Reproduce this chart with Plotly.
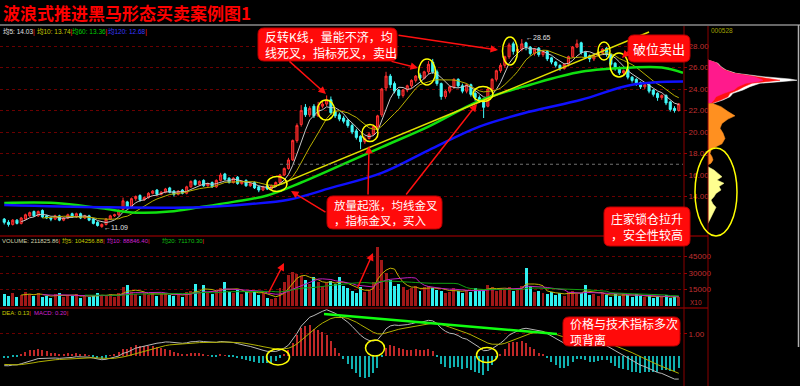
import plotly.graph_objects as go
import pandas as pd

W, H = 800, 386
def px(x): return x / W
def py(y): return 1 - y / H

# ---------------- data ----------------
opens = [11.9, 11.6, 11.4, 11.8, 11.5, 11.9, 12.2, 12.6, 12.2, 12.7,
         12.2, 12.0, 11.9, 12.2, 11.8, 12.0, 12.4, 12.1, 12.4, 12.0,
         12.2, 11.9, 11.6, 11.2, 11.4, 11.9, 12.2, 12.3, 12.8, 13.5,
         13.0, 13.8, 14.1, 13.7, 13.9, 14.3, 14.6, 14.2, 14.4, 14.8,
         14.5, 14.2, 14.6, 14.3, 14.9, 15.5, 15.1, 15.5, 15.0, 15.3,
         14.9, 15.5, 16.1, 15.7, 15.3, 15.8, 15.2, 15.5, 15.0, 15.3,
         14.9, 14.6, 15.0, 14.7, 15.0, 15.3, 16.0, 16.6, 17.4, 19.2,
         20.7, 22.3, 21.6, 22.4, 21.5, 22.4, 22.6, 23.0, 21.9, 21.6,
         21.3, 21.1, 20.6, 20.1, 19.6, 19.1, 19.4, 19.8, 20.5, 21.6,
         24.1, 25.2, 24.5, 23.9, 23.4, 23.9, 24.3, 24.8, 25.3, 25.0,
         25.6, 26.5, 25.6, 24.5, 23.3, 23.8, 24.2, 24.9, 24.3, 23.8,
         24.4, 23.6, 23.2, 22.9, 22.4, 24.0, 24.9, 25.7, 26.2, 27.0,
         28.2, 27.5, 27.7, 28.3, 27.9, 27.3, 27.8, 27.2, 27.5, 26.9,
         26.5, 26.2, 25.9, 26.3, 27.0, 27.9, 28.3, 27.4, 27.1, 26.8,
         27.1, 27.4, 27.8, 27.2, 26.4, 26.0, 25.5, 25.8, 25.1, 24.9,
         24.6, 24.2, 24.4, 23.9, 23.6, 23.2, 23.4, 22.8, 22.2, 22.0]
highs = [12.0, 11.8, 11.9, 11.9, 12.1, 12.4, 12.6, 12.7, 12.7, 12.8,
         12.3, 12.1, 12.3, 12.3, 12.1, 12.4, 12.5, 12.5, 12.5, 12.3,
         12.3, 12.0, 11.7, 11.5, 12.0, 12.3, 12.4, 12.8, 13.9, 13.6,
         13.9, 14.1, 14.2, 14.0, 14.4, 14.6, 14.7, 14.5, 14.8, 14.9,
         14.6, 14.6, 14.7, 15.0, 15.5, 15.6, 15.5, 15.6, 15.3, 15.4,
         15.6, 16.2, 16.2, 15.8, 15.8, 15.9, 15.5, 15.6, 15.3, 15.4,
         15.0, 15.0, 15.1, 15.1, 15.4, 16.1, 16.7, 17.6, 19.3, 20.8,
         22.5, 22.6, 22.4, 22.6, 22.8, 22.8, 23.4, 23.3, 22.1, 21.8,
         21.5, 21.2, 20.8, 20.3, 19.7, 19.6, 20.0, 20.6, 21.6, 24.1,
         25.6, 25.4, 24.7, 24.0, 24.0, 24.4, 24.9, 25.3, 25.5, 25.7,
         26.6, 26.8, 25.8, 24.6, 23.9, 24.3, 25.0, 25.0, 24.5, 24.5,
         24.5, 23.8, 23.4, 23.1, 24.1, 25.0, 25.8, 26.4, 27.1, 28.3,
         28.4, 27.9, 28.65, 28.4, 28.0, 27.8, 27.9, 27.6, 27.6, 27.0,
         26.6, 26.3, 26.4, 27.1, 28.0, 28.6, 28.4, 27.5, 27.2, 27.2,
         27.5, 27.8, 27.9, 27.3, 26.5, 26.1, 25.8, 25.9, 25.2, 25.0,
         24.7, 24.5, 24.5, 24.0, 23.7, 23.5, 23.5, 22.9, 22.4, 22.7]
lows = [11.4, 11.2, 11.3, 11.4, 11.4, 11.8, 12.1, 12.1, 12.1, 12.0,
        11.9, 11.7, 11.8, 11.7, 11.7, 11.9, 12.0, 12.0, 11.9, 11.9,
        11.7, 11.4, 11.2, 11.09, 11.3, 11.8, 12.1, 12.2, 12.7, 12.8,
        12.9, 13.6, 13.5, 13.6, 13.8, 14.2, 14.1, 14.1, 14.3, 14.3,
        14.0, 14.1, 14.2, 14.2, 14.8, 15.0, 15.0, 14.9, 14.9, 14.8,
        14.8, 15.4, 15.5, 15.2, 15.2, 15.1, 15.1, 14.9, 14.9, 14.7,
        14.4, 14.5, 14.6, 14.6, 14.9, 15.2, 15.9, 16.5, 17.3, 19.0,
        20.5, 21.4, 21.4, 21.3, 21.4, 22.2, 22.4, 21.6, 21.3, 21.0,
        20.8, 20.4, 19.8, 19.3, 18.4, 18.9, 19.3, 19.7, 20.3, 21.4,
        23.8, 24.1, 23.6, 23.1, 23.2, 23.7, 24.1, 24.6, 24.8, 24.9,
        25.4, 25.4, 24.3, 23.0, 23.1, 23.6, 24.0, 24.1, 23.6, 23.6,
        23.3, 22.9, 22.7, 21.3, 22.3, 23.9, 24.7, 25.5, 26.0, 26.8,
        27.2, 27.3, 27.5, 27.6, 27.1, 27.1, 27.0, 27.0, 26.6, 26.3,
        26.0, 25.7, 25.8, 26.1, 26.9, 27.8, 27.2, 26.8, 26.5, 26.6,
        27.0, 27.2, 27.0, 26.1, 25.7, 25.3, 25.3, 24.9, 24.6, 24.3,
        24.0, 24.0, 23.6, 23.3, 22.9, 23.0, 22.5, 21.9, 21.8, 21.9]
closes = [11.6, 11.4, 11.8, 11.5, 12.0, 12.3, 12.5, 12.2, 12.6, 12.1,
          12.0, 11.9, 12.2, 11.8, 12.0, 12.3, 12.1, 12.4, 12.0, 12.2,
          11.8, 11.5, 11.3, 11.4, 11.9, 12.2, 12.3, 12.7, 13.6, 13.0,
          13.8, 14.0, 13.7, 13.9, 14.3, 14.5, 14.2, 14.4, 14.7, 14.4,
          14.2, 14.5, 14.3, 14.9, 15.4, 15.1, 15.4, 15.0, 15.2, 14.9,
          15.5, 16.0, 15.6, 15.3, 15.7, 15.2, 15.4, 15.0, 15.2, 14.8,
          14.6, 14.9, 14.7, 15.0, 15.3, 16.0, 16.6, 17.4, 19.2, 20.6,
          22.0, 21.6, 22.2, 21.5, 22.4, 22.6, 23.0, 21.8, 21.5, 21.2,
          21.0, 20.6, 20.0, 19.5, 19.1, 19.4, 19.8, 20.5, 21.5, 24.0,
          25.2, 24.4, 23.8, 23.4, 23.9, 24.3, 24.8, 25.2, 25.0, 25.6,
          26.3, 25.6, 24.5, 23.3, 23.8, 24.2, 24.9, 24.3, 23.8, 24.4,
          23.5, 23.2, 22.9, 22.3, 24.0, 24.9, 25.7, 26.2, 27.0, 28.1,
          27.5, 27.7, 28.2, 27.9, 27.3, 27.7, 27.2, 27.5, 26.8, 26.5,
          26.2, 25.9, 26.3, 27.0, 27.9, 28.2, 27.4, 27.0, 26.8, 27.1,
          27.4, 27.7, 27.2, 26.3, 25.9, 25.5, 25.7, 25.1, 24.8, 24.5,
          24.2, 24.4, 23.8, 23.5, 23.2, 23.4, 22.7, 22.1, 22.0, 22.6]
volumes = [11000, 9000, 12000, 8000, 10000, 13000, 11000, 9000, 12000, 8000,
           9000, 7000, 11000, 12000, 8000, 10000, 9000, 11000, 7000, 10000,
           8000, 9000, 12000, 10000, 9000, 11000, 8000, 12000, 17000, 19000,
           13000, 11000, 9000, 12000, 10000, 13000, 9000, 11000, 12000, 10000,
           9000, 11000, 8000, 13000, 14000, 20000, 12000, 19000, 13000, 11000,
           14000, 16000, 22000, 13000, 12000, 15000, 11000, 13000, 12000, 14000,
           10000, 12000, 7000, 6000, 7000, 16000, 22000, 28000, 31000, 29000,
           27000, 24000, 20000, 26000, 22000, 18000, 21000, 23000, 20000, 26000,
           18000, 16000, 14000, 12000, 17000, 13000, 15000, 22000, 54000, 42000,
           30000, 24000, 18000, 20000, 17000, 15000, 16000, 18000, 14000, 17000,
           18000, 16000, 15000, 14000, 12000, 13000, 16000, 14000, 12000, 15000,
           13000, 16000, 14000, 15000, 19000, 17000, 14000, 16000, 15000, 17000,
           14000, 16000, 18000, 35000, 18000, 13000, 14000, 12000, 11000, 13000,
           10000, 12000, 9000, 13000, 14000, 11000, 12000, 19000, 10000, 11000,
           9000, 12000, 10000, 8000, 11000, 9000, 12000, 10000, 8000, 11000,
           9000, 8000, 10000, 7000, 9000, 8000, 10000, 7000, 9000, 8000]

ma60_idx = [0, 12, 23, 31, 39, 46, 54, 62, 70, 77, 89, 100, 112, 124, 136, 148, 155, 160]
ma60_val = [13.4, 13.4, 12.9, 12.5, 12.6, 13.0, 13.5, 14.1, 15.3, 16.5, 18.6, 20.5, 22.9, 24.4, 25.6, 26.0, 26.0, 25.5]
ma120_idx = [0, 23, 46, 58, 67, 77, 89, 100, 112, 124, 136, 148, 160]
ma120_val = [13.2, 13.0, 13.0, 13.3, 13.7, 14.8, 16.2, 18.3, 20.5, 21.9, 23.0, 24.4, 24.7]
trend_idx = [63, 152]
trend_val = [14.8, 29.3]
# state of the indicators before the first visible day
ema12_seed, ema26_seed, dea_seed = 11.9, 12.35, -0.37

chip_top_price = [26.7, 26.39, 26.08, 25.77, 25.46, 25.15, 24.93, 24.81, 24.68, 24.53, 24.22, 23.91, 23.60, 23.28, 22.98, 22.67]
chip_top_white = [0, 10, 13, 18, 28, 55, 82, 89, 72, 52, 42, 35, 25, 22, 15, 5]
chip_top_red = [0, 9, 12, 17, 26, 50, 66, 72, 58, 44, 36, 30, 22, 20, 13, 4]
chip_top_pink = [0, 9, 12, 16, 25, 46, 52, 55, 50, 38, 30, 26, 16, 8, 6, 3]
chip_mid_price = [22.67, 22.36, 21.9, 21.5, 21.2, 20.8, 20.35, 19.9, 19.4, 18.9, 18.63, 18.3, 18.0, 17.7, 17.4, 17.1, 16.95]
chip_mid_w = [4, 13, 20, 27, 20, 14, 12, 15, 17, 14, 8, 3, 2, 4, 5, 3, 0]
chip_low_price = [16.77, 16.46, 16.15, 15.84, 15.53, 15.23, 14.92, 14.60, 14.29, 13.98, 13.67, 13.3, 13.0, 12.6, 12.2, 11.8, 11.5]
chip_low_w = [0, 6, 10, 14, 9, 16, 11, 13, 8, 6, 3, 5, 8, 6, 4, 2, 0]

price_ticks = [14, 16, 18, 20, 22, 24, 26, 28]
vol_ticks = [15000, 30000, 45000]
macd_ticks = [1.0]

# ---------------- derived indicators ----------------
idx = list(range(len(closes)))
cs = pd.Series(closes)
ma5 = cs.rolling(5).mean()
ma10 = cs.rolling(10).mean()
vs = pd.Series(volumes)
vma5 = vs.rolling(5).mean()
vma10 = vs.rolling(10).mean()
vma20 = vs.rolling(20).mean()

e12, e26, dea = ema12_seed, ema26_seed, dea_seed
dif_l, dea_l, hist = [], [], []
for c in closes:
    e12 = (2 * c + 11 * e12) / 13
    e26 = (2 * c + 25 * e26) / 27
    d = e12 - e26
    dea = (2 * d + 8 * dea) / 10
    dif_l.append(d)
    dea_l.append(dea)
    hist.append(2 * (d - dea))

up = [c >= o for o, c in zip(opens, closes)]

fig = go.Figure()

fig.add_trace(go.Candlestick(
    x=idx, open=opens, high=highs, low=lows, close=closes,
    increasing=dict(line=dict(color='#ff3030', width=1), fillcolor='rgba(170,20,20,0.9)'),
    decreasing=dict(line=dict(color='#40f8f8', width=1), fillcolor='#40f8f8'),
    whiskerwidth=0, xaxis='x', yaxis='y', showlegend=False))
fig.add_trace(go.Scatter(x=idx, y=ma5, mode='lines', line=dict(color='#c8c8c8', width=1), xaxis='x', yaxis='y'))
fig.add_trace(go.Scatter(x=idx, y=ma10, mode='lines', line=dict(color='#b8b000', width=1), xaxis='x', yaxis='y'))
fig.add_trace(go.Scatter(x=ma60_idx, y=ma60_val, mode='lines', line=dict(color='#10e010', width=2.5, shape='spline'), xaxis='x', yaxis='y'))
fig.add_trace(go.Scatter(x=ma120_idx, y=ma120_val, mode='lines', line=dict(color='#1010ff', width=2.5, shape='spline'), xaxis='x', yaxis='y'))
fig.add_trace(go.Scatter(x=trend_idx, y=trend_val, mode='lines', line=dict(color='#e0e000', width=1.5), xaxis='x', yaxis='y'))

# volume
fig.add_trace(go.Bar(x=idx, y=volumes, width=0.7,
                     marker=dict(color=['rgba(170,25,25,0.95)' if u else '#30f0f0' for u in up], line=dict(width=0)),
                     xaxis='x3', yaxis='y3'))
fig.add_trace(go.Scatter(x=idx, y=vma5, mode='lines', line=dict(color='#c0b000', width=1), xaxis='x3', yaxis='y3'))
fig.add_trace(go.Scatter(x=idx, y=vma10, mode='lines', line=dict(color='#c020c0', width=1), xaxis='x3', yaxis='y3'))
fig.add_trace(go.Scatter(x=idx, y=vma20, mode='lines', line=dict(color='#10a010', width=1), xaxis='x3', yaxis='y3'))

# MACD
fig.add_trace(go.Bar(x=idx, y=hist, width=0.3,
                     marker=dict(color=['#c02828' if h >= 0 else '#10b0b0' for h in hist], line=dict(width=0)),
                     xaxis='x4', yaxis='y4'))
fig.add_trace(go.Scatter(x=idx, y=dif_l, mode='lines', line=dict(color='#b8b8b8', width=1), xaxis='x4', yaxis='y4'))
fig.add_trace(go.Scatter(x=idx, y=dea_l, mode='lines', line=dict(color='#b0b000', width=1), xaxis='x4', yaxis='y4'))

# chip distribution
for xs, ys, col in [(chip_top_white, chip_top_price, '#ffffff'),
                    (chip_top_red, chip_top_price, '#ff1010'),
                    (chip_top_pink, chip_top_price, '#ff1a8c'),
                    (chip_mid_w, chip_mid_price, '#ff9020'),
                    (chip_low_w, chip_low_price, '#ffff90')]:
    fig.add_trace(go.Scatter(x=xs, y=ys, mode='lines', fill='tozerox', fillcolor=col,
                             line=dict(color=col, width=0.5), xaxis='x2', yaxis='y2'))

price_dom = [py(234), py(30)]
vol_dom = [py(306), py(246)]
macd_dom = [py(384), py(309)]
x_dom = [0, px(683)]
xr = [-1, 160]
tickfont = dict(family='Liberation Sans', size=8, color='#c03030')
hidden_x = dict(showticklabels=False, showgrid=False, zeroline=False, showline=False, ticks='')
yax_common = dict(side='right', showgrid=True, gridcolor='#6a0000', griddash='dot', gridwidth=1,
                  zeroline=False, showline=False, ticks='outside', ticklen=3, tickcolor='#a00000',
                  tickfont=tickfont, fixedrange=True)

fig.update_layout(
    width=W, height=H, margin=dict(l=0, r=0, t=0, b=0),
    paper_bgcolor='black', plot_bgcolor='black', showlegend=False,
    xaxis=dict(domain=x_dom, range=xr, anchor='y', rangeslider=dict(visible=False), **hidden_x),
    yaxis=dict(domain=price_dom, range=[10.512, 29.488], anchor='x', tickvals=price_ticks,
               ticktext=['%.2f' % v for v in price_ticks], **yax_common),
    xaxis2=dict(domain=[px(708), px(798)], range=[0, 90], anchor='y2', **hidden_x),
    yaxis2=dict(domain=price_dom, range=[10.512, 29.488], anchor='x2', showticklabels=False,
                showgrid=False, zeroline=False, showline=False),
    xaxis3=dict(domain=x_dom, range=xr, anchor='y3', **hidden_x),
    yaxis3=dict(domain=vol_dom, range=[0, 54545], anchor='x3', tickvals=vol_ticks,
                ticktext=[str(v) for v in vol_ticks], **yax_common),
    xaxis4=dict(domain=x_dom, range=xr, anchor='y4', **hidden_x),
    yaxis4=dict(domain=macd_dom, range=[-1.273, 2.136], anchor='x4', tickvals=macd_ticks,
                ticktext=['%.2f' % v for v in macd_ticks], **yax_common),
    bargap=0,
)

shapes = []
def hline(y, x0, x1, color, width=1, dash='solid'):
    shapes.append(dict(type='line', xref='paper', yref='paper', x0=px(x0), x1=px(x1), y0=py(y), y1=py(y),
                       line=dict(color=color, width=width, dash=dash)))
def vline(x, y0, y1, color, width=1):
    shapes.append(dict(type='line', xref='paper', yref='paper', x0=px(x), x1=px(x), y0=py(y0), y1=py(y1),
                       line=dict(color=color, width=width)))

hline(25, 0, 800, '#8a8a8a', 1.5)
hline(236, 0, 708, '#7a0000', 1.5)
hline(308, 0, 708, '#7a0000', 1.5)
vline(684, 26, 386, '#8a0000')
vline(708, 26, 386, '#8a0000')
vline(798.5, 25, 347, '#b0b0b0', 1.5)
shapes.append(dict(type='line', xref='x', yref='y', x0=65, x1=160, y0=17.0, y1=17.0,
                   line=dict(color='#707070', width=1, dash='dot')))

def rrect(x0, y0, x1, y1, r=6):
    P = lambda x, y: '%.5f,%.5f' % (px(x), py(y))
    return ('M ' + P(x0 + r, y0) + ' L ' + P(x1 - r, y0) + ' Q ' + P(x1, y0) + ' ' + P(x1, y0 + r) +
            ' L ' + P(x1, y1 - r) + ' Q ' + P(x1, y1) + ' ' + P(x1 - r, y1) +
            ' L ' + P(x0 + r, y1) + ' Q ' + P(x0, y1) + ' ' + P(x0, y1 - r) +
            ' L ' + P(x0, y0 + r) + ' Q ' + P(x0, y0) + ' ' + P(x0 + r, y0) + ' Z')

annotations = []
boxes = [
    (258, 28, 397, 61, '反转K线，量能不济，均<br>线死叉，指标死叉，卖出', 12, 'left'),
    (628, 35, 690, 62, '破位卖出', 13, 'center'),
    (327, 196, 442, 229, '放量起涨，均线金叉<br>，指标金叉，买入', 11.5, 'left'),
    (604, 207, 690, 246, '庄家锁仓拉升<br>，安全性较高', 12, 'left'),
    (563, 317, 680, 346, '价格与技术指标多次<br>项背离', 12, 'left'),
]
for x0, y0, x1, y1, txt, fs, al in boxes:
    shapes.append(dict(type='path', xref='paper', yref='paper', path=rrect(x0, y0, x1, y1),
                       fillcolor='#ff0a0a', line=dict(color='#c00000', width=1)))
    if al == 'left':
        annotations.append(dict(xref='paper', yref='paper', x=px(x0 + 5), y=py((y0 + y1) / 2),
                                xanchor='left', yanchor='middle', align='left', showarrow=False, text=txt,
                                font=dict(family='Noto Sans CJK SC', size=fs, color='white')))
    else:
        annotations.append(dict(xref='paper', yref='paper', x=px((x0 + x1) / 2), y=py((y0 + y1) / 2),
                                xanchor='center', yanchor='middle', showarrow=False, text=txt,
                                font=dict(family='Noto Sans CJK SC', size=fs, color='white')))

ellipses = [(326, 110, 8.5, 10), (370, 133, 8, 8.5), (427, 72, 8.5, 13), (483, 94, 10, 7.5),
            (510, 51, 7.5, 14), (604, 51, 6, 9), (619, 65, 9, 12), (277, 184, 10, 7.5),
            (278, 357, 11.5, 8), (375, 348, 9.5, 8), (487, 355, 10.5, 7.5), (716, 192, 21, 44)]
for cx, cy, rx, ry in ellipses:
    shapes.append(dict(type='circle', xref='paper', yref='paper', x0=px(cx - rx), x1=px(cx + rx),
                       y0=py(cy + ry), y1=py(cy - ry), line=dict(color='#ffff00', width=1.5)))

# green divergence line in MACD panel
shapes.append(dict(type='line', xref='paper', yref='paper', x0=px(324), y0=py(314), x1=px(557), y1=py(334),
                   line=dict(color='#10ff10', width=2.5)))

arrows = [((288, 60), (326, 94)), ((390, 61), (418, 68)), ((397, 35), (498, 50)),
          ((368, 196), (369, 146)), ((405, 196), (477, 104)), ((327, 213), (291, 191)),
          ((630, 50), (622, 58)), ((268, 294), (284, 263)), ((357, 289), (373, 253))]
for (tx, ty), (hx, hy) in arrows:
    annotations.append(dict(xref='paper', yref='paper', x=px(hx), y=py(hy), ax=tx - hx, ay=ty - hy,
                            axref='pixel', ayref='pixel', text='', showarrow=True, arrowhead=2,
                            arrowsize=1, arrowwidth=1.5, arrowcolor='#ff1010'))

def label(x, y, txt, color, size=6.5, anchor='left', family='Liberation Sans, Noto Sans CJK SC'):
    annotations.append(dict(xref='paper', yref='paper', x=px(x), y=py(y), xanchor=anchor, yanchor='middle',
                            showarrow=False, text=txt,
                            font=dict(family=family, size=size, color=color)))

mark = "<span style='color:#ff2020'>|</span>"
label(1, 12, '<b>波浪式推进黑马形态买卖案例图1</b>', '#ff0000', 17, family='Noto Sans CJK SC')
label(1, 32, '均5: 14.03' + mark, '#e0e0e0')
label(35, 32, '均10: 13.74' + mark, '#c8c800')
label(70, 32, '均60: 13.36' + mark, '#00d000')
label(106, 32, '均120: 12.68' + mark, '#3838ff')
label(0, 241, 'VOLUME: 211825.86' + mark, '#d0d0a8', 6)
label(60, 241, '均5: 104256.88' + mark, '#c8c800', 6)
label(105, 241, '均10: 88846.40' + mark, '#d020d0', 6)
label(160, 241, '均20: 71170.30' + mark, '#10c010', 6)
label(0, 313, 'DEA: 0.13' + mark, '#c8c800', 6)
label(32, 313, 'MACD: 0.20' + mark, '#d020d0', 6)
label(709, 31, '000528', '#a0a000')
label(688, 302, 'X10', '#c03030')
annotations.append(dict(xref='x', yref='y', x=23, y=11.09, xanchor='left', yanchor='middle', showarrow=False,
                        text='←11.09', font=dict(family='Liberation Sans', size=7, color='#e0e0e0')))
annotations.append(dict(xref='x', yref='y', x=122.5, y=28.75, xanchor='left', yanchor='middle', showarrow=False,
                        text='←28.65', font=dict(family='Liberation Sans', size=7, color='#e0e0e0')))

fig.update_layout(shapes=shapes, annotations=annotations)
fig.write_html('out.html', config={'displayModeBar': False},
               post_script="document.body.style.margin='0';document.body.style.overflow='hidden';")
